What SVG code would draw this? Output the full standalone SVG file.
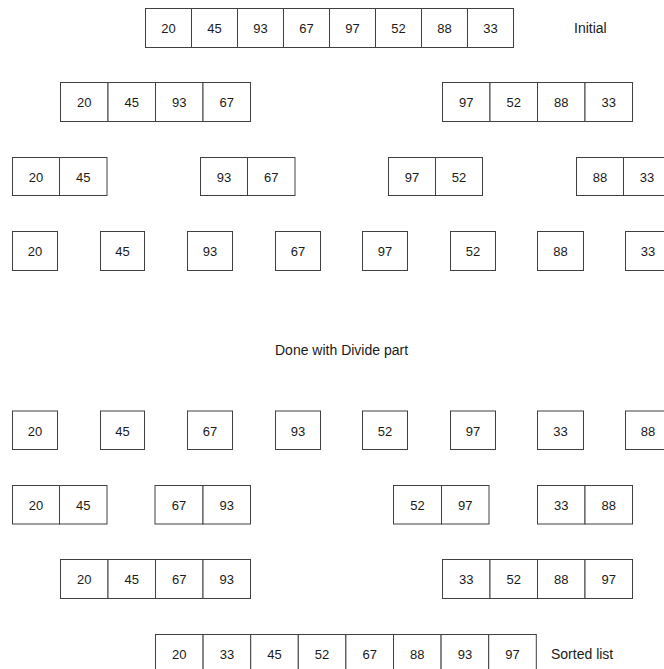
<svg xmlns="http://www.w3.org/2000/svg" width="664" height="669" viewBox="0 0 664 669">
<style>
.c{fill:#fff;stroke:#404040;stroke-width:1}
text{font-family:"Liberation Sans",Arial,sans-serif;font-size:13px;fill:#1a1a1a}
.n{text-anchor:middle}
.l{font-size:14px}
</style>
<rect width="664" height="669" fill="#fff"/>
<g id="connectors"></g>
<g id="row1">
<rect class="c" x="145.5" y="8.5" width="46" height="39"/><text class="n" x="168.5" y="33">20</text>
<rect class="c" x="191.5" y="8.5" width="46" height="39"/><text class="n" x="214.5" y="33">45</text>
<rect class="c" x="237.5" y="8.5" width="46" height="39"/><text class="n" x="260.5" y="33">93</text>
<rect class="c" x="283.5" y="8.5" width="46" height="39"/><text class="n" x="306.5" y="33">67</text>
<rect class="c" x="329.5" y="8.5" width="46" height="39"/><text class="n" x="352.5" y="33">97</text>
<rect class="c" x="375.5" y="8.5" width="46" height="39"/><text class="n" x="398.5" y="33">52</text>
<rect class="c" x="421.5" y="8.5" width="46" height="39"/><text class="n" x="444.5" y="33">88</text>
<rect class="c" x="467.5" y="8.5" width="46" height="39"/><text class="n" x="490.5" y="33">33</text>
<text class="l" x="574" y="33">Initial</text>
</g>
<g id="row2a">
<rect class="c" x="60.5" y="82.5" width="47.5" height="39"/><text class="n" x="84.2" y="107">20</text>
<rect class="c" x="108" y="82.5" width="47.5" height="39"/><text class="n" x="131.7" y="107">45</text>
<rect class="c" x="155.5" y="82.5" width="47.5" height="39"/><text class="n" x="179.2" y="107">93</text>
<rect class="c" x="203" y="82.5" width="47.5" height="39"/><text class="n" x="226.7" y="107">67</text>
</g>
<g id="row2b">
<rect class="c" x="442.5" y="82.5" width="47.5" height="39"/><text class="n" x="466.2" y="107">97</text>
<rect class="c" x="490" y="82.5" width="47.5" height="39"/><text class="n" x="513.7" y="107">52</text>
<rect class="c" x="537.5" y="82.5" width="47.5" height="39"/><text class="n" x="561.2" y="107">88</text>
<rect class="c" x="585" y="82.5" width="47.5" height="39"/><text class="n" x="608.7" y="107">33</text>
</g>
<g id="row3a">
<rect class="c" x="12.5" y="157.5" width="47" height="38"/><text class="n" x="36" y="181.5">20</text>
<rect class="c" x="59.5" y="157.5" width="47.5" height="38"/><text class="n" x="83.2" y="181.5">45</text>
</g>
<g id="row3b">
<rect class="c" x="200.5" y="157.5" width="47" height="38"/><text class="n" x="224" y="181.5">93</text>
<rect class="c" x="247.5" y="157.5" width="47.5" height="38"/><text class="n" x="271.2" y="181.5">67</text>
</g>
<g id="row3c">
<rect class="c" x="388.5" y="157.5" width="47" height="38"/><text class="n" x="412" y="181.5">97</text>
<rect class="c" x="435.5" y="157.5" width="47" height="38"/><text class="n" x="459" y="181.5">52</text>
</g>
<g id="row3d">
<rect class="c" x="576.5" y="157.5" width="47" height="38"/><text class="n" x="600" y="181.5">88</text>
<rect class="c" x="623.5" y="157.5" width="47" height="38"/><text class="n" x="647" y="181.5">33</text>
</g>
<g id="row4">
<rect class="c" x="12.5" y="231.5" width="45" height="39"/><text class="n" x="35" y="256">20</text>
<rect class="c" x="100.5" y="231.5" width="44" height="39"/><text class="n" x="122.5" y="256">45</text>
<rect class="c" x="187.5" y="231.5" width="45" height="39"/><text class="n" x="210" y="256">93</text>
<rect class="c" x="275.5" y="231.5" width="45" height="39"/><text class="n" x="298" y="256">67</text>
<rect class="c" x="362.5" y="231.5" width="45" height="39"/><text class="n" x="385" y="256">97</text>
<rect class="c" x="450.5" y="231.5" width="45" height="39"/><text class="n" x="473" y="256">52</text>
<rect class="c" x="537.5" y="231.5" width="46" height="39"/><text class="n" x="560.5" y="256">88</text>
<rect class="c" x="625.5" y="231.5" width="45" height="39"/><text class="n" x="648" y="256">33</text>
</g>
<g id="divide-label">
<text class="l" x="275" y="355">Done with Divide part</text>
</g>
<g id="row5">
<rect class="c" x="12.5" y="411" width="45" height="38.5"/><text class="n" x="35" y="435.5">20</text>
<rect class="c" x="100.5" y="411" width="44" height="38.5"/><text class="n" x="122.5" y="435.5">45</text>
<rect class="c" x="187.5" y="411" width="45" height="38.5"/><text class="n" x="210" y="435.5">67</text>
<rect class="c" x="275.5" y="411" width="45" height="38.5"/><text class="n" x="298" y="435.5">93</text>
<rect class="c" x="362.5" y="411" width="45" height="38.5"/><text class="n" x="385" y="435.5">52</text>
<rect class="c" x="450.5" y="411" width="45" height="38.5"/><text class="n" x="473" y="435.5">97</text>
<rect class="c" x="537.5" y="411" width="46" height="38.5"/><text class="n" x="560.5" y="435.5">33</text>
<rect class="c" x="625.5" y="411" width="45" height="38.5"/><text class="n" x="648" y="435.5">88</text>
</g>
<g id="row6a">
<rect class="c" x="12.5" y="485.5" width="47" height="38.5"/><text class="n" x="36" y="510">20</text>
<rect class="c" x="59.5" y="485.5" width="47.5" height="38.5"/><text class="n" x="83.2" y="510">45</text>
</g>
<g id="row6b">
<rect class="c" x="155" y="485.5" width="48" height="38.5"/><text class="n" x="179" y="510">67</text>
<rect class="c" x="203" y="485.5" width="47.5" height="38.5"/><text class="n" x="226.7" y="510">93</text>
</g>
<g id="row6c">
<rect class="c" x="393.5" y="485.5" width="48" height="38.5"/><text class="n" x="417.5" y="510">52</text>
<rect class="c" x="441.5" y="485.5" width="47.5" height="38.5"/><text class="n" x="465.2" y="510">97</text>
</g>
<g id="row6d">
<rect class="c" x="537.5" y="485.5" width="47.5" height="38.5"/><text class="n" x="561.2" y="510">33</text>
<rect class="c" x="585" y="485.5" width="47.5" height="38.5"/><text class="n" x="608.7" y="510">88</text>
</g>
<g id="row7a">
<rect class="c" x="60.5" y="559.5" width="47.5" height="39"/><text class="n" x="84.2" y="584">20</text>
<rect class="c" x="108" y="559.5" width="47.5" height="39"/><text class="n" x="131.7" y="584">45</text>
<rect class="c" x="155.5" y="559.5" width="47.5" height="39"/><text class="n" x="179.2" y="584">67</text>
<rect class="c" x="203" y="559.5" width="47.5" height="39"/><text class="n" x="226.7" y="584">93</text>
</g>
<g id="row7b">
<rect class="c" x="442.5" y="559.5" width="47.5" height="39"/><text class="n" x="466.2" y="584">33</text>
<rect class="c" x="490" y="559.5" width="47.5" height="39"/><text class="n" x="513.7" y="584">52</text>
<rect class="c" x="537.5" y="559.5" width="47.5" height="39"/><text class="n" x="561.2" y="584">88</text>
<rect class="c" x="585" y="559.5" width="47.5" height="39"/><text class="n" x="608.7" y="584">97</text>
</g>
<g id="row8">
<rect class="c" x="155.5" y="634.5" width="47.6" height="40"/><text class="n" x="179.3" y="659">20</text>
<rect class="c" x="203.1" y="634.5" width="47.6" height="40"/><text class="n" x="226.9" y="659">33</text>
<rect class="c" x="250.7" y="634.5" width="47.6" height="40"/><text class="n" x="274.5" y="659">45</text>
<rect class="c" x="298.3" y="634.5" width="47.6" height="40"/><text class="n" x="322.1" y="659">52</text>
<rect class="c" x="345.9" y="634.5" width="47.6" height="40"/><text class="n" x="369.7" y="659">67</text>
<rect class="c" x="393.5" y="634.5" width="47.6" height="40"/><text class="n" x="417.3" y="659">88</text>
<rect class="c" x="441.1" y="634.5" width="47.6" height="40"/><text class="n" x="464.9" y="659">93</text>
<rect class="c" x="488.7" y="634.5" width="47.6" height="40"/><text class="n" x="512.5" y="659">97</text>
<text class="l" x="551" y="659">Sorted list</text>
</g>
</svg>
